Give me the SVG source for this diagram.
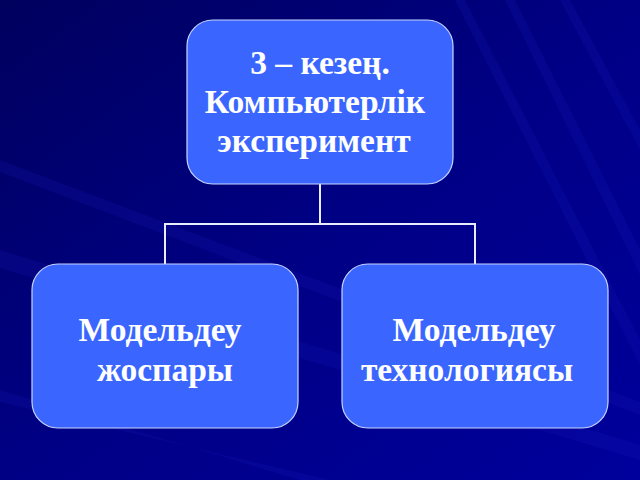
<svg xmlns="http://www.w3.org/2000/svg" width="640" height="480" viewBox="0 0 640 480">
<defs>
<style>
.node{fill:#3A66FF;stroke:#C8D4FF;stroke-width:1.2}
.lbl{font-family:"Liberation Serif","Times New Roman",serif;font-weight:bold;font-size:33.5px;fill:#FFFFFF;text-anchor:middle}
.conn{fill:none;stroke:#E8ECFF;stroke-width:2}
.streak{fill:#1A1AC0;opacity:0.18}
</style>
<linearGradient id="bg" x1="0" y1="0" x2="1" y2="1">
<stop offset="0" stop-color="#00005E"/>
<stop offset="0.5" stop-color="#000085"/>
<stop offset="1" stop-color="#00009C"/>
</linearGradient>
</defs>
<rect width="640" height="480" fill="url(#bg)"/>
<g id="background-streaks">
<polygon class="streak" points="505,0 515,0 640,250 640,275"/>
<polygon class="streak" points="560,0 570,0 640,130 640,150"/>
<polygon class="streak" points="455,0 465,0 640,340 640,365"/>
<polygon class="streak" points="0,250 0,268 640,460 640,445"/>
<polygon class="streak" points="0,160 0,172 640,415 640,402"/>
<polygon class="streak" points="0,390 0,402 330,480 300,480"/>
</g>
<g id="connectors">
<path class="conn" d="M320,184 V224 M165,264 V224 H475 V264"/>
</g>
<g id="node-top">
<rect class="node" x="187" y="20" width="266" height="164" rx="26"/>
<text class="lbl" x="320" y="74">3 – кезең.</text>
<text class="lbl" x="315" y="113">Компьютерлік</text>
<text class="lbl" x="314" y="152">эксперимент</text>
</g>
<g id="node-left">
<rect class="node" x="32" y="264" width="266" height="164" rx="26"/>
<text class="lbl" x="160" y="341">Модельдеу</text>
<text class="lbl" x="165" y="381">жоспары</text>
</g>
<g id="node-right">
<rect class="node" x="342" y="264" width="266" height="164" rx="26"/>
<text class="lbl" x="474" y="341">Модельдеу</text>
<text class="lbl" x="467" y="381">технологиясы</text>
</g>
</svg>
